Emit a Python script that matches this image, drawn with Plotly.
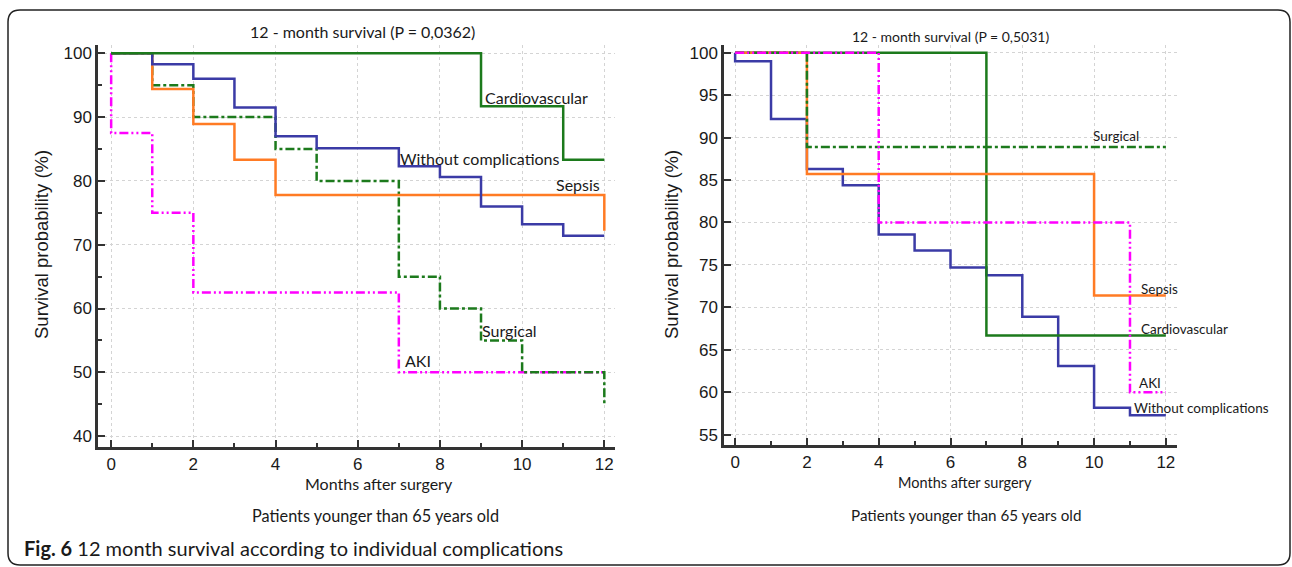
import plotly.graph_objects as go

W, H = 1292, 567

# ---------------- data: left panel (P = 0,0362) ----------------
L_cardio_x = [0, 9, 11, 12]
L_cardio_y = [100, 91.7, 83.3, 83.3]
L_without_x = [0, 1, 2, 3, 4, 5, 7, 8, 9, 10, 11, 12]
L_without_y = [100, 98.3, 96.0, 91.5, 87.0, 85.1, 82.3, 80.6, 76.0, 73.2, 71.4, 71.4]
L_sepsis_x = [0, 1, 2, 3, 4, 12]
L_sepsis_y = [100, 94.4, 88.9, 83.3, 77.8, 72.2]
L_surg_x = [0, 1, 2, 4, 5, 7, 8, 9, 10, 12]
L_surg_y = [100, 95, 90, 85, 80, 65, 60, 55, 50, 45]
L_aki_x = [0, 0, 1, 2, 7, 12]
L_aki_y = [100, 87.5, 75, 62.5, 50, 50]

# ---------------- data: right panel (P = 0,5031) ----------------
R_without_x = [0, 0, 1, 2, 3, 4, 5, 6, 7, 8, 9, 10, 11, 12]
R_without_y = [100, 99.0, 92.2, 86.3, 84.4, 78.6, 76.7, 74.7, 73.8, 68.9, 63.1, 58.2, 57.3, 57.3]
R_sepsis_x = [0, 2, 10, 12]
R_sepsis_y = [100, 85.7, 71.4, 71.4]
R_cardio_x = [0, 7, 12]
R_cardio_y = [100, 66.7, 66.7]
R_surg_x = [0, 2, 12]
R_surg_y = [100, 88.9, 88.9]
R_aki_x = [0, 4, 11, 12]
R_aki_y = [100, 80, 60, 60]

BLUE = "#3b3ba6"
ORANGE = "#ff7b24"
GREEN = "#1c7a1c"
MAGENTA = "#ff00ff"
DASHDOT = "9px,3px,3px,3px"
DASHDOTDOT = "9px,3px,2px,3px,2px,3px"

fig = go.Figure()

def add(x, y, color, dash, xa, ya):
    fig.add_trace(go.Scatter(x=x, y=y, mode="lines", line_shape="hv",
                             line=dict(color=color, width=2.5, dash=dash),
                             xaxis=xa, yaxis=ya, showlegend=False, hoverinfo="skip"))

# left
add(L_aki_x, L_aki_y, MAGENTA, DASHDOTDOT, "x", "y")
add(L_surg_x, L_surg_y, GREEN, DASHDOT, "x", "y")
add(L_sepsis_x, L_sepsis_y, ORANGE, "solid", "x", "y")
add(L_without_x, L_without_y, BLUE, "solid", "x", "y")
add(L_cardio_x, L_cardio_y, GREEN, "solid", "x", "y")
# right
add(R_without_x, R_without_y, BLUE, "solid", "x2", "y2")
add(R_cardio_x, R_cardio_y, GREEN, "solid", "x2", "y2")
add(R_sepsis_x, R_sepsis_y, ORANGE, "solid", "x2", "y2")
add(R_surg_x, R_surg_y, GREEN, DASHDOT, "x2", "y2")
add(R_aki_x, R_aki_y, MAGENTA, DASHDOTDOT, "x2", "y2")

TICKFONT = dict(family="Liberation Sans, Arial", size=17, color="#1a1a1a")
LABFONT = "Lato"

def axis_common():
    return dict(showline=True, linewidth=2.5, linecolor="#333333",
                ticks="inside", ticklen=7, tickwidth=2, tickcolor="#333333",
                showgrid=True, gridcolor="#d4d4d4", griddash="dot", gridwidth=1,
                zeroline=False, tickfont=TICKFONT, fixedrange=True)

xa = axis_common(); xa.update(domain=[98 / W, 615 / W], range=[-0.32, 12.26], tick0=0, dtick=2,
                             anchor="y", minor=dict(ticks="inside", dtick=1, ticklen=4, tickwidth=1.5,
                                                    tickcolor="#333333", showgrid=False))
ya = axis_common(); ya.update(domain=[1 - 447 / H, 1 - 45 / H], range=[38.3, 101.3], tick0=40, dtick=10,
                             anchor="x", minor=dict(ticks="inside", dtick=5, ticklen=4, tickwidth=1.5,
                                                    tickcolor="#333333", showgrid=False))
xa2 = axis_common(); xa2.update(domain=[724 / W, 1177 / W], range=[-0.31, 12.31], tick0=0, dtick=2,
                               anchor="y2", minor=dict(ticks="inside", dtick=1, ticklen=4, tickwidth=1.5,
                                                       tickcolor="#333333", showgrid=False))
ya2 = axis_common(); ya2.update(domain=[1 - 445 / H, 1 - 45 / H], range=[53.8, 100.9], tick0=55, dtick=5,
                               anchor="x2")

annotations = []

def lab(text, x, y, xref, yref, size, xanchor="left"):
    annotations.append(dict(text=text, x=x, y=y, xref=xref, yref=yref, showarrow=False,
                            xanchor=xanchor, yanchor="middle",
                            font=dict(family=LABFONT, size=size, color="#1a1a1a")))

# series labels left
lab("Cardiovascular", 9.05, 93.1, "x", "y", 16)
lab("Without complications", 6.98, 83.5, "x", "y", 16)
lab("Sepsis", 11.95, 79.4, "x", "y", 16, "right")
lab("Surgical", 8.98, 56.5, "x", "y", 16)
lab("AKI", 7.1, 51.8, "x", "y", 16)
# series labels right
lab("Surgical", 11.3, 90.2, "x2", "y2", 13.5, "right")
lab("Sepsis", 11.25, 72.2, "x2", "y2", 13.5)
lab("Cardiovascular", 11.25, 67.5, "x2", "y2", 13.5)
lab("AKI", 11.2, 61.1, "x2", "y2", 13.5)
lab("Without complications", 11.05, 58.1, "x2", "y2", 13.5)

def ptxt(text, x, y, size, family=LABFONT, angle=0, xanchor="center"):
    annotations.append(dict(text=text, x=x / W, y=1 - y / H, xref="paper", yref="paper",
                            showarrow=False, xanchor=xanchor, yanchor="middle", textangle=angle,
                            font=dict(family=family, size=size, color="#1a1a1a")))

ptxt("12 - month survival (P = 0,0362)", 362, 31, 16)
ptxt("12 - month survival (P = 0,5031)", 951, 37, 14)
ptxt("Survival probability (%)", 42, 245, 18.5, "Liberation Sans, Arial", -90)
ptxt("Survival probability (%)", 672, 245, 18.5, "Liberation Sans, Arial", -90)
ptxt("Months after surgery", 379, 483, 16)
ptxt("Months after surgery", 965, 482, 14.5)
ptxt("Patients younger than 65 years old", 376, 515, 16.3)
ptxt("Patients younger than 65 years old", 966, 515, 15.2)
ptxt("<b>Fig. 6</b> 12 month survival according to individual complications", 22, 548, 20,
     xanchor="left")

# rounded border
x0, y0, x1, y1, r = 8, 10, 1290, 565, 12
def P(x, y):
    return f"{x / W:.6f},{1 - y / H:.6f}"
path = (f"M {P(x0 + r, y0)} L {P(x1 - r, y0)} Q {P(x1, y0)} {P(x1, y0 + r)} "
        f"L {P(x1, y1 - r)} Q {P(x1, y1)} {P(x1 - r, y1)} L {P(x0 + r, y1)} "
        f"Q {P(x0, y1)} {P(x0, y1 - r)} L {P(x0, y0 + r)} Q {P(x0, y0)} {P(x0 + r, y0)} Z")

fig.update_layout(
    width=W, height=H, autosize=False,
    margin=dict(l=0, r=0, t=0, b=0),
    paper_bgcolor="white", plot_bgcolor="white",
    xaxis=xa, yaxis=ya, xaxis2=xa2, yaxis2=ya2,
    annotations=annotations,
    shapes=[dict(type="path", path=path, xref="paper", yref="paper",
                 line=dict(color="#222222", width=1.5), layer="above")],
    showlegend=False,
)

fig.write_html("out.html", config={"displayModeBar": False},
               post_script="document.body.style.margin='0';document.body.style.overflow='hidden';")
